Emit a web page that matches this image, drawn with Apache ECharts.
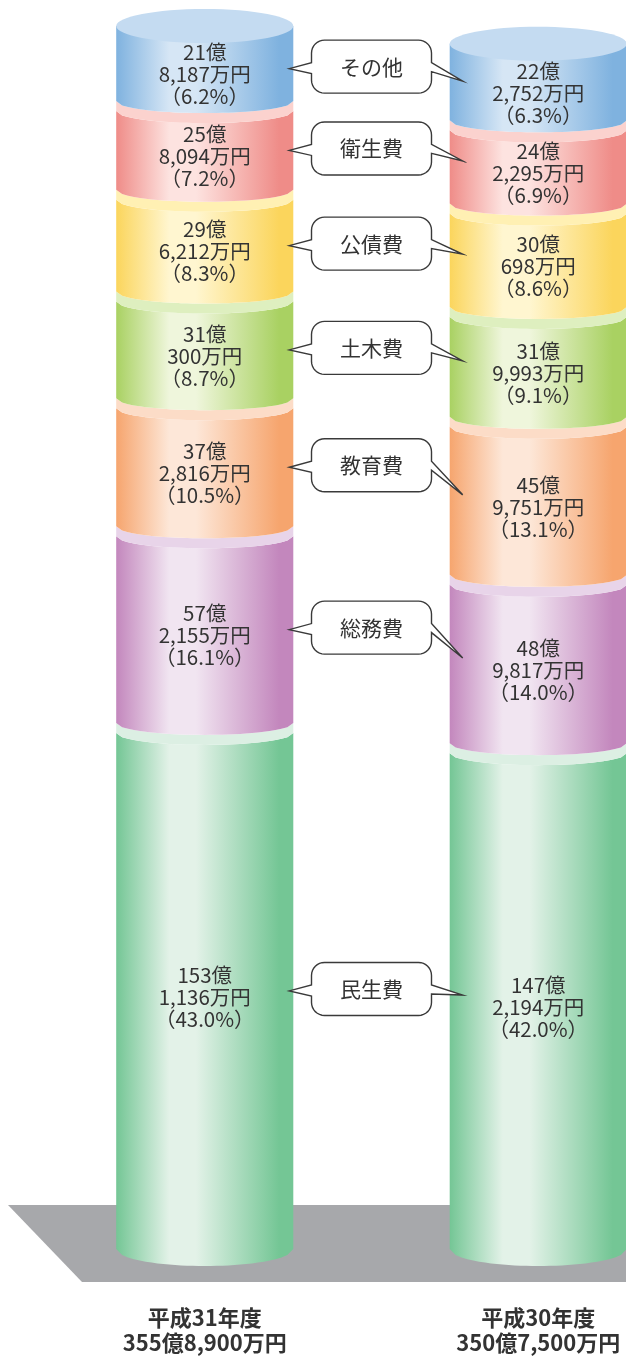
<!DOCTYPE html>
<html>
<head>
<meta charset="utf-8">
<script src="https://cdn.jsdelivr.net/npm/echarts@6/dist/echarts.min.js"></script>
<style>
  html, body { margin: 0; padding: 0; background: #fff; }
  #chart { width: 626px; height: 1359px; }
</style>
</head>
<body>
<div id="chart"></div>
<script>
// bottom -> top of each column
const years = ['平成31年度', '平成30年度'];
const items = ['民生費', '総務費', '教育費', '土木費', '公債費', '衛生費', 'その他'];
const amountH31 = [1531136, 572155, 372816, 310300, 296212, 258094, 218187]; // 万円
const amountH30 = [1472194, 489817, 459751, 319993, 300698, 242295, 222752]; // 万円
const shareH31 = [43.0, 16.1, 10.5, 8.7, 8.3, 7.2, 6.2];
const shareH30 = [42.0, 14.0, 13.1, 9.1, 8.6, 6.9, 6.3];

// edge / highlight / cap colour per item
const colors = [
  ['#74c695', '#e3f2e8', '#dcefe3'],
  ['#c387bd', '#f1e5f1', '#e8d4e9'],
  ['#f6a56e', '#fde7d8', '#fcdcc7'],
  ['#a9d162', '#eff6dc', '#deefbf'],
  ['#fbd55c', '#fff6d0', '#fff0b3'],
  ['#ef8c88', '#fde3e0', '#fbd2ce'],
  ['#7fb2df', '#d6e6f5', '#c4dbf1']
];

const FONT = '"Noto Sans CJK JP", "Noto Sans", sans-serif';
const columns = [amountH31, amountH30];
const shares = [shareH31, shareH30];
const oku = v => v / 10000;
const yen = v => Math.floor(v / 10000) + '億' + (v % 10000).toLocaleString('en-US') + '万円';

// segments: [column, start(億), end(億), item index, amount(万円), share]
const segs = [];
const mids = [[], []];
columns.forEach((arr, c) => {
  let acc = 0;
  arr.forEach((v, k) => {
    segs.push([c, oku(acc), oku(acc + v), k, v, shares[c][k]]);
    mids[c].push(oku(acc + v / 2));
    acc += v;
  });
});
const totals = columns.map(arr => yen(arr.reduce((a, b) => a + b, 0)));
const calloutData = items.map((n, k) => [0, mids[0][k], mids[1][k], k]);

const WIDTH_RATIO = 0.531, CAP_RY = 17, BOW = 12, RING = 10, BOTTOM_BOW = 17;

function arc(xl, xr, y, bow, reverse) {
  const cx = (xl + xr) / 2, rx = (xr - xl) / 2, pts = [];
  for (let i = 0; i <= 30; i++) {
    const x = xl + (xr - xl) * i / 30;
    const t = (x - cx) / rx;
    pts.push([x, y + bow * Math.sqrt(Math.max(0, 1 - t * t))]);
  }
  return reverse ? pts.reverse() : pts;
}

function cylinder(params, api) {
  const c = api.value(0), lo = api.value(1), hi = api.value(2), k = api.value(3);
  const amount = api.value(4), share = api.value(5);
  const p0 = api.coord([c, lo]), p1 = api.coord([c, hi]);
  const w = api.size([1, 0])[0] * WIDTH_RATIO;
  const cx = p0[0], xl = cx - w / 2, xr = cx + w / 2;
  const yb = p0[1], yt = p1[1];
  const isTop = k === items.length - 1, isBottom = k === 0;
  const col = colors[k];
  const grad = new echarts.graphic.LinearGradient(0, 0, 1, 0, [
    { offset: 0, color: col[0] }, { offset: 0.3, color: col[1] },
    { offset: 0.45, color: col[1] }, { offset: 0.92, color: col[0] }, { offset: 1, color: col[0] }
  ]);
  const topEdge = isTop ? [[xl, yt], [xr, yt]] : arc(xl, xr, yt + RING, BOW, false);
  const body = topEdge.concat(arc(xl, xr, yb, isBottom ? BOTTOM_BOW : BOW, true));
  const children = [{ type: 'polygon', shape: { points: body }, style: { fill: grad } }];
  if (isTop) {
    children.push({ type: 'ellipse', shape: { cx: cx, cy: yt, rx: w / 2, ry: CAP_RY }, style: { fill: col[2] } });
  } else {
    children.push({
      type: 'polygon',
      shape: { points: arc(xl, xr, yt, BOW, false).concat(arc(xl, xr, yt + RING, BOW, true)) },
      style: { fill: col[2] }
    });
  }
  children.push({
    type: 'text',
    style: {
      text: Math.floor(amount / 10000) + '億\n' + (amount % 10000).toLocaleString('en-US') + '万円\n（' + share.toFixed(1) + '%）',
      x: cx, y: (yt + yb) / 2 + 11, align: 'center', verticalAlign: 'middle',
      font: '20.5px ' + FONT, lineHeight: 22, fill: '#333'
    }
  });
  return { type: 'group', children: children };
}

function cornerPts(cx, cy, r, a0, a1) {
  const pts = [];
  for (let i = 0; i <= 8; i++) {
    const a = (a0 + (a1 - a0) * i / 8) * Math.PI / 180;
    pts.push([cx + r * Math.cos(a), cy + r * Math.sin(a)]);
  }
  return pts;
}

function callout(params, api) {
  const k = api.value(3);
  const pl = api.coord([0, api.value(1)]), pr = api.coord([1, api.value(2)]);
  const w = api.size([1, 0])[0] * WIDTH_RATIO;
  const leftRight = pl[0] + w / 2, rightLeft = pr[0] - w / 2;
  const lyL = pl[1] + 11, lyR = pr[1] + 11;
  const bcx = (leftRight + rightLeft) / 2, bcy = lyL - 8;
  const bw = 120, bh = 53, r = 13;
  const x0 = bcx - bw / 2, x1 = bcx + bw / 2, y0 = bcy - bh / 2, y1 = bcy + bh / 2;
  const tipL = [leftRight - 4, bcy + 2], tipR = [rightLeft + 13, lyR - 12];
  let pts = [[x0 + r, y0], [x1 - r, y0]];
  pts = pts.concat(cornerPts(x1 - r, y0 + r, r, -90, 0));
  pts.push([x1, bcy - 4], tipR, [x1, bcy + 5], [x1, y1 - r]);
  pts = pts.concat(cornerPts(x1 - r, y1 - r, r, 0, 90));
  pts.push([x0 + r, y1]);
  pts = pts.concat(cornerPts(x0 + r, y1 - r, r, 90, 180));
  pts.push([x0, bcy + 7], tipL, [x0, bcy - 4], [x0, y0 + r]);
  pts = pts.concat(cornerPts(x0 + r, y0 + r, r, 180, 270));
  return {
    type: 'group',
    children: [
      { type: 'polygon', shape: { points: pts }, style: { fill: '#fff', stroke: '#3a3a3a', lineWidth: 1.4 } },
      { type: 'text', style: { text: items[k], x: bcx, y: bcy, align: 'center', verticalAlign: 'middle', font: '21px ' + FONT, fill: '#333' } }
    ]
  };
}

const chart = echarts.init(document.getElementById('chart'));
chart.setOption({
  animation: false,
  backgroundColor: '#fff',
  grid: { left: 38, right: -79, top: 12, bottom: 110, outerBoundsMode: 'none', containLabel: false },
  xAxis: {
    type: 'category', data: years,
    axisLine: { show: false }, axisTick: { show: false },
    axisLabel: {
      interval: 0, margin: 56, color: '#333', fontSize: 22, fontWeight: 'bold',
      lineHeight: 25, fontFamily: FONT,
      formatter: (v, i) => v + '\n' + totals[i]
    }
  },
  yAxis: { type: 'value', min: 0, max: 360, show: false },
  graphic: [{
    type: 'polygon', z: 0,
    shape: { points: [[8, 1205], [640, 1205], [640, 1282], [82, 1282]] },
    style: { fill: '#a7a8ab' }
  }],
  series: [
    { type: 'custom', name: 'cylinders', renderItem: cylinder, data: segs, encode: { x: 0, y: [1, 2] }, z: 3 },
    { type: 'custom', name: 'callouts', renderItem: callout, data: calloutData, encode: { x: 0, y: [1, 2] }, z: 4 }
  ]
});
</script>
</body>
</html>
